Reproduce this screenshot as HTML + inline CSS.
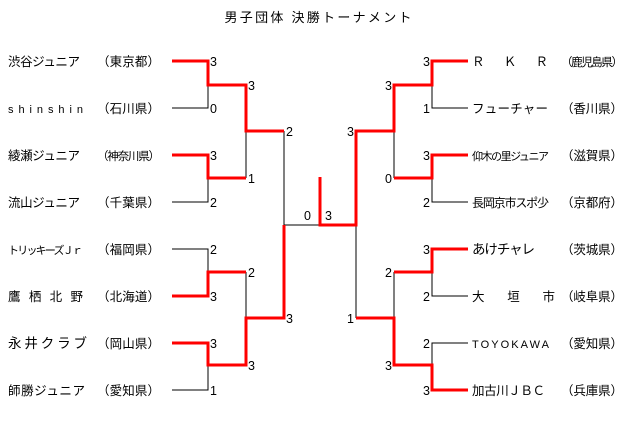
<!DOCTYPE html>
<html><head><meta charset="utf-8"><style>
html,body{margin:0;padding:0;background:#fff;width:640px;height:429px;overflow:hidden}
svg text{font-family:"Liberation Sans","Noto Sans CJK JP",sans-serif;font-size:12.5px;fill:#000}
</style></head><body>
<svg width="640" height="429" viewBox="0 0 640 429" xmlns="http://www.w3.org/2000/svg">
<text x="318" y="22" text-anchor="middle" style="font-size:13px" textLength="187">男子団体 決勝トーナメント</text>

<g fill="none" stroke="#000" stroke-width="1">
<!-- left black -->
<path d="M208 85V108H172"/>
<path d="M208 178V202H172"/>
<path d="M172 249H208V272"/>
<path d="M208 365V390H172"/>
<path d="M246 131V178"/>
<path d="M246 272V318"/>
<path d="M284 131V225H320"/>
<!-- right black -->
<path d="M432 85V108H468"/>
<path d="M394 131V178"/>
<path d="M432 178V202H468"/>
<path d="M432 272V296H468"/>
<path d="M468 343H432V365"/>
<path d="M394 272V318"/>
<path d="M356 225V318"/>
</g>
<g fill="none" stroke="#f00" stroke-width="3">
<path d="M172 61H208V85H246V131H284"/>
<path d="M172 155H208V178H246"/>
<path d="M172 296H208V272H246"/>
<path d="M172 343H208V365H246V318H284V225"/>
<path d="M320 177V225H356V131H394V85H432V61H468"/>
<path d="M394 178H432V155H468"/>
<path d="M394 272H432V249H468"/>
<path d="M356 318H394V365H432V390H468"/>
</g>

<!-- left names -->
<g>
<text x="8" y="66" textLength="72">渋谷ジュニア</text><text x="97" y="66" textLength="63">（東京都）</text>
<text x="8" y="113" textLength="75" style="font-size:11px">shinshin</text><text x="97" y="113" textLength="63">（石川県）</text>
<text x="8" y="160" textLength="72">綾瀬ジュニア</text><text x="97" y="160" textLength="63" style="font-size:11.5px">（神奈川県）</text>
<text x="8" y="207" textLength="72">流山ジュニア</text><text x="97" y="207" textLength="63">（千葉県）</text>
<text x="8" y="254" textLength="75" style="font-size:11px">トリッキーズＪｒ</text><text x="97" y="254" textLength="63">（福岡県）</text>
<text x="8" y="301" textLength="75">鷹 栖 北 野</text><text x="97" y="301" textLength="63">（北海道）</text>
<text x="8" y="348" textLength="79" style="font-size:13.5px">永井クラブ</text><text x="97" y="348" textLength="63">（岡山県）</text>
<text x="8" y="395" textLength="77">師勝ジュニア</text><text x="97" y="395" textLength="63">（愛知県）</text>
</g>
<!-- right names -->
<g>
<text x="472" y="66" textLength="76">Ｒ　Ｋ　Ｒ</text><text x="561" y="66" textLength="62" style="font-size:11.5px">（鹿児島県）</text>
<text x="472" y="113" textLength="76">フューチャー</text><text x="561" y="113" textLength="62">（香川県）</text>
<text x="472" y="160" textLength="77" style="font-size:11px">仰木の里ジュニア</text><text x="561" y="160" textLength="62">（滋賀県）</text>
<text x="472" y="207" textLength="77" style="font-size:12px">長岡京市スポ少</text><text x="561" y="207" textLength="62">（京都府）</text>
<text x="472" y="254" textLength="63" style="font-size:13.5px">あけチャレ</text><text x="561" y="254" textLength="62">（茨城県）</text>
<text x="472" y="301" textLength="83">大　垣　市</text><text x="561" y="301" textLength="62">（岐阜県）</text>
<text x="472" y="348" textLength="77" style="font-size:11px">TOYOKAWA</text><text x="561" y="348" textLength="62">（愛知県）</text>
<text x="472" y="395" textLength="73">加古川ＪＢＣ</text><text x="561" y="395" textLength="62">（兵庫県）</text>
</g>

<!-- scores -->
<g style="font-size:13px">
<text x="210" y="66">3</text><text x="210" y="113">0</text><text x="210" y="160">3</text><text x="210" y="207">2</text>
<text x="210" y="254">2</text><text x="210" y="301">3</text><text x="210" y="348">3</text><text x="210" y="395">1</text>
<text x="248" y="90">3</text><text x="248" y="183">1</text><text x="248" y="277">2</text><text x="248" y="370">3</text>
<text x="286" y="136">2</text><text x="286" y="323">3</text>
<text x="304" y="220">0</text><text x="325" y="220">3</text>
<text x="430" y="66" text-anchor="end">3</text><text x="430" y="113" text-anchor="end">1</text><text x="430" y="160" text-anchor="end">3</text><text x="430" y="207" text-anchor="end">2</text>
<text x="430" y="254" text-anchor="end">3</text><text x="430" y="301" text-anchor="end">2</text><text x="430" y="348" text-anchor="end">2</text><text x="430" y="395" text-anchor="end">3</text>
<text x="392" y="90" text-anchor="end">3</text><text x="392" y="183" text-anchor="end">0</text><text x="392" y="277" text-anchor="end">2</text><text x="392" y="370" text-anchor="end">3</text>
<text x="354" y="136" text-anchor="end">3</text><text x="354" y="323" text-anchor="end">1</text>
</g>
</svg>
</body></html>
